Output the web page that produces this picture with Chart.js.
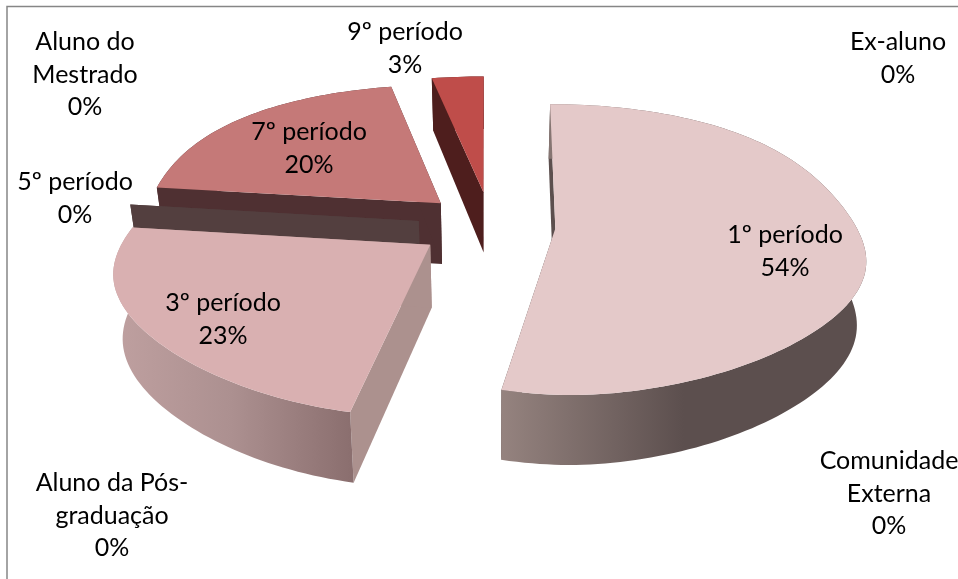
<!DOCTYPE html>
<html>
<head>
<meta charset="utf-8">
<title>Período</title>
<script src="https://cdn.jsdelivr.net/npm/chart.js@4"></script>
<style>
    html, body { margin: 0; padding: 0; background: #fff; }
    canvas { display: block; }
</style>
</head>
<body>
<canvas id="pieChart" width="958" height="579"></canvas>
<script>
// Chart data, in the order the slices go round
const categories = ['1º período', '3º período', '5º período', '7º período', '9º período',
    'Aluno do\nMestrado', 'Aluno da Pós-\ngraduação', 'Comunidade\nExterna', 'Ex-aluno'];
const values = [53.6, 23.3, 0, 20.1, 3.0, 0, 0, 0, 0];

// Slice styling
const explode = [68, 74, 75, 72, 75, 75, 75, 75, 75];
const topColors = ['#E4C9C9', '#D9B0B1', '#D0A0A0', '#C57978', '#BF4D4A', '#BF4D4A', '#BF4D4A', '#BF4D4A', '#BF4D4A'];
const edgeColors = ['#5C4F4E', '#AC918E', '#533F3F', '#4F3032', '#4E1E1D', '#4E1E1D', '#4E1E1D', '#4E1E1D', '#4E1E1D'];
const wallStops = [
    ['#95837F', '#5C4F4E', '#5C4F4E'],
    ['#BFA0A0', '#AC9090', '#8B6F6F'],
    ['#533F3F', '#533F3F', '#533F3F'],
    ['#4F3032', '#4F3032', '#4F3032'],
    ['#4E1E1D', '#4E1E1D', '#4E1E1D'],
    ['#4E1E1D', '#4E1E1D', '#4E1E1D'],
    ['#4E1E1D', '#4E1E1D', '#4E1E1D'],
    ['#4E1E1D', '#4E1E1D', '#4E1E1D'],
    ['#4E1E1D', '#4E1E1D', '#4E1E1D']
];

// Where each data label sits: centre x and the middle y of its first line
const labelSpots = [
    [785, 235], [223, 303], [75, 182], [309, 132], [405, 32],
    [85, 42], [112, 483], [889, 461], [898, 42]
];
const lineHeight = 32.5;

// Fake 3D view of the pie plane
const viewX = 490;
const viewY = 225;
const pieRadius = 312;

function project(x, y) {
    const s = 0.988 + 0.1 * Math.tanh((y - 40) / 150);
    // the front of the view leans right a little around the middle
    const front = Math.min(1, Math.max(0, y / 310));
    const lean = 14 * Math.exp(-(x * x) / 8100) * front * front;
    return [viewX + x * s + lean, viewY + 0.453 * y / (1 - y / 2156)];
}

// Same point on the underside of the slab
function lower(p, y) {
    return [viewX + (p[0] - viewX) * 0.975, p[1] + 62 * (1 + y / 2500)];
}

// Slice outline in plane coordinates, taken from the arc element
function sliceRim(arc, offset) {
    const mid = (arc.startAngle + arc.endAngle) / 2;
    const ox = Math.cos(mid) * offset;
    const oy = Math.sin(mid) * offset;
    const steps = Math.max(2, Math.ceil((arc.endAngle - arc.startAngle) * 40));
    const rim = [];
    for (let i = 0; i <= steps; i++) {
        const a = arc.startAngle + (arc.endAngle - arc.startAngle) * i / steps;
        rim.push([ox + Math.cos(a) * arc.outerRadius, oy + Math.sin(a) * arc.outerRadius]);
    }
    return { apex: [ox, oy], rim: rim };
}

function fillPoly(ctx, pts, fill) {
    ctx.beginPath();
    pts.forEach((p, i) => (i ? ctx.lineTo(p[0], p[1]) : ctx.moveTo(p[0], p[1])));
    ctx.closePath();
    ctx.fillStyle = fill;
    ctx.fill();
}

function radialFace(ctx, apex, end, color) {
    const a = project(apex[0], apex[1]);
    const b = project(end[0], end[1]);
    fillPoly(ctx, [a, b, lower(b, end[1]), lower(a, apex[1])], color);
}

function drawSlice(ctx, arc, i) {
    const shape = sliceRim(arc, explode[i]);
    const rim = shape.rim;
    const top = rim.map(p => project(p[0], p[1]));

    radialFace(ctx, shape.apex, rim[0], edgeColors[i]);
    radialFace(ctx, shape.apex, rim[rim.length - 1], edgeColors[i]);

    if (values[i] > 0) {
        // outer wall, lit from the left
        const low = rim.map((p, k) => lower(top[k], p[1])).reverse();
        const xs = top.map(p => p[0]);
        const grad = ctx.createLinearGradient(Math.min(...xs), 0, Math.max(...xs), 0);
        grad.addColorStop(0, wallStops[i][0]);
        grad.addColorStop(0.5, wallStops[i][1]);
        grad.addColorStop(1, wallStops[i][2]);
        fillPoly(ctx, top.concat(low), grad);

        const apex = project(shape.apex[0], shape.apex[1]);
        fillPoly(ctx, [apex].concat(top), arc.options.backgroundColor);
    }
}

// Replaces the flat arcs with the tilted ones, then writes the labels and frame
const tiltedPie = {
    id: 'tiltedPie',
    beforeDatasetsDraw(chart) {
        const ctx = chart.ctx;
        const arcs = chart.getDatasetMeta(0).data;

        // frame: only top and left show in the picture
        ctx.save();
        ctx.strokeStyle = '#868686';
        ctx.lineWidth = 1.5;
        ctx.beginPath();
        ctx.moveTo(7, chart.height);
        ctx.lineTo(7, 6.5);
        ctx.lineTo(chart.width, 6.5);
        ctx.stroke();

        // back to front
        [8, 7, 6, 5, 4, 3, 2, 1, 0].forEach(i => drawSlice(ctx, arcs[i], i));

        ctx.font = '25px Lato, "Noto Sans", sans-serif';
        ctx.fillStyle = '#000';
        ctx.textAlign = 'center';
        ctx.textBaseline = 'middle';
        categories.forEach((name, i) => {
            const lines = name.split('\n').concat(Math.round(values[i]) + '%');
            lines.forEach((line, k) => {
                ctx.fillText(line, labelSpots[i][0], labelSpots[i][1] + k * lineHeight);
            });
        });
        ctx.restore();
        return false;
    }
};

new Chart(document.getElementById('pieChart').getContext('2d'), {
    type: 'pie',
    data: {
        labels: categories,
        datasets: [{ data: values, backgroundColor: topColors, borderWidth: 0 }]
    },
    options: {
        responsive: false,
        animation: false,
        radius: pieRadius,
        plugins: { legend: { display: false }, tooltip: { enabled: false } }
    },
    plugins: [tiltedPie]
});
</script>
</body>
</html>
